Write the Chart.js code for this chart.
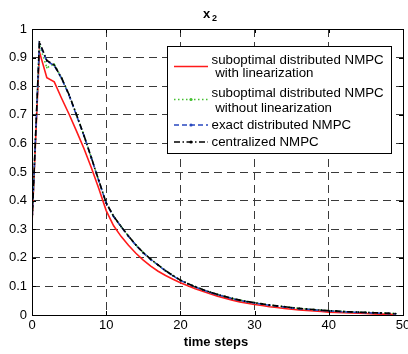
<!DOCTYPE html>
<html>
<head>
<meta charset="utf-8">
<script src="https://cdn.jsdelivr.net/npm/chart.js@4.4.0/dist/chart.umd.min.js"></script>
<style>
html, body { margin: 0; padding: 0; background: #fff; }
#wrap { width: 408px; height: 354px; }
</style>
</head>
<body>
<div id="wrap"><canvas id="c" width="408" height="354"></canvas></div>
<script>
// time steps 0..49
var steps = [0, 1, 2, 3, 4, 5, 6, 7, 8, 9, 10, 11, 12, 13, 14, 15, 16, 17, 18, 19,
    20, 21, 22, 23, 24, 25, 26, 27, 28, 29, 30, 31, 32, 33, 34, 35, 36, 37, 38, 39,
    40, 41, 42, 43, 44, 45, 46, 47, 48, 49];

// suboptimal distributed NMPC with linearization (red)
var subLin = [0.32, 0.92, 0.83, 0.815, 0.757, 0.702, 0.643, 0.582, 0.515, 0.442, 0.365,
    0.312, 0.275, 0.244, 0.216, 0.192, 0.171, 0.153, 0.138, 0.125, 0.113,
    0.102, 0.092, 0.083, 0.074, 0.066, 0.059, 0.052, 0.046, 0.041, 0.037,
    0.033, 0.029, 0.026, 0.023, 0.020, 0.018, 0.016, 0.014, 0.012, 0.010,
    0.009, 0.008, 0.007, 0.006, 0.005, 0.004, 0.003, 0.003, 0.002];

// suboptimal distributed NMPC without linearization (green)
var subNoLin = [0.32, 0.945, 0.865, 0.877, 0.828, 0.77, 0.70, 0.628, 0.55, 0.47, 0.392,
    0.345, 0.31, 0.276, 0.245, 0.218, 0.195, 0.175, 0.155, 0.138, 0.122,
    0.110, 0.099, 0.089, 0.080, 0.072, 0.065, 0.058, 0.052, 0.047, 0.043,
    0.039, 0.035, 0.032, 0.029, 0.026, 0.023, 0.021, 0.019, 0.017, 0.015,
    0.014, 0.012, 0.011, 0.010, 0.009, 0.008, 0.007, 0.006, 0.005];

// exact distributed NMPC (blue)
var exactDist = [0.32, 0.948, 0.888, 0.872, 0.826, 0.768, 0.698, 0.627, 0.549, 0.469, 0.391,
    0.344, 0.309, 0.275, 0.244, 0.217, 0.194, 0.174, 0.154, 0.137, 0.121,
    0.109, 0.098, 0.088, 0.079, 0.071, 0.064, 0.057, 0.051, 0.046, 0.042,
    0.038, 0.034, 0.031, 0.028, 0.025, 0.022, 0.020, 0.018, 0.016, 0.014,
    0.013, 0.011, 0.010, 0.009, 0.008, 0.007, 0.006, 0.005, 0.004];

// centralized NMPC (black)
var central = [0.32, 0.955, 0.89, 0.874, 0.828, 0.77, 0.70, 0.628, 0.55, 0.47, 0.392,
    0.345, 0.31, 0.276, 0.245, 0.218, 0.195, 0.175, 0.155, 0.138, 0.122,
    0.110, 0.099, 0.089, 0.080, 0.072, 0.065, 0.058, 0.052, 0.047, 0.043,
    0.039, 0.035, 0.032, 0.029, 0.026, 0.023, 0.021, 0.019, 0.017, 0.015,
    0.014, 0.012, 0.011, 0.010, 0.009, 0.008, 0.007, 0.006, 0.005];

var xTicks = [0, 10, 20, 30, 40, 50];
var yTicks = [0, 0.1, 0.2, 0.3, 0.4, 0.5, 0.6, 0.7, 0.8, 0.9, 1];

var legendLines = [
    ['suboptimal distributed NMPC', ' with linearization'],
    ['suboptimal distributed NMPC', ' without linearization'],
    ['exact distributed NMPC'],
    ['centralized NMPC']
];

function pts(ys) {
    var out = [];
    for (let i = 0; i < steps.length; i++) {
        out.push({ x: steps[i], y: ys[i] });
    }
    return out;
}

var FONT = '"Liberation Sans", Arial, sans-serif';

var styles = [
    { color: '#ff1a1a', dash: [], width: 1.6, dot: false },
    { color: '#44c030', dash: [1.5, 2.5], width: 1.6, dot: true },
    { color: '#2848c0', dash: [5, 3], width: 1.6, dot: true },
    { color: '#000000', dash: [6, 2.5, 1.5, 2.5], width: 1.6, dot: true }
];

var series = [subLin, subNoLin, exactDist, central];

var datasets = [];
for (let i = 0; i < series.length; i++) {
    datasets.push({
        label: legendLines[i].join(''),
        data: pts(series[i]),
        borderColor: styles[i].color,
        backgroundColor: styles[i].color,
        borderWidth: styles[i].width,
        borderDash: styles[i].dash,
        pointRadius: styles[i].dot ? 0.9 : 0,
        pointBorderWidth: 0,
        tension: 0,
        fill: false,
        order: series.length - i
    });
}

var decor = {
    id: 'decor',
    afterDraw: function (chart) {
        var ctx = chart.ctx;
        var a = chart.chartArea;
        var xs = chart.scales.x, ys = chart.scales.y;
        ctx.save();
        ctx.setLineDash([]);
        ctx.strokeStyle = '#000';
        ctx.lineWidth = 1;
        ctx.strokeRect(Math.round(a.left) + 0.5, Math.round(a.top) + 0.5,
            Math.round(a.right - a.left), Math.round(a.bottom - a.top));

        // inward ticks
        ctx.beginPath();
        xTicks.forEach(function (v) {
            var px = Math.round(xs.getPixelForValue(v)) + 0.5;
            ctx.moveTo(px, a.bottom); ctx.lineTo(px, a.bottom - 4);
            ctx.moveTo(px, a.top); ctx.lineTo(px, a.top + 4);
        });
        yTicks.forEach(function (v) {
            var py = Math.round(ys.getPixelForValue(v)) + 0.5;
            ctx.moveTo(a.left, py); ctx.lineTo(a.left + 4, py);
            ctx.moveTo(a.right, py); ctx.lineTo(a.right - 4, py);
        });
        ctx.stroke();

        // title x_2
        ctx.fillStyle = '#000';
        ctx.textBaseline = 'alphabetic';
        ctx.textAlign = 'left';
        ctx.font = 'bold 13px ' + FONT;
        ctx.fillText('x', 203, 18);
        ctx.font = 'bold 9px ' + FONT;
        ctx.fillText('2', 212, 21);

        // x label
        ctx.font = 'bold 13px ' + FONT;
        ctx.textAlign = 'center';
        ctx.fillText('time steps', 216, 346);

        // legend box
        var bx = 167.5, by = 46.5, bw = 224, bh = 107;
        ctx.fillStyle = '#fff';
        ctx.fillRect(bx, by, bw, bh);
        ctx.strokeStyle = '#000';
        ctx.lineWidth = 1;
        ctx.strokeRect(bx, by, bw, bh);

        var textY = [[60, 73.5], [93, 108], [125], [142]];
        var sampleY = [66.5, 99.5, 125, 142];
        ctx.font = '13.3px ' + FONT;
        ctx.textAlign = 'left';
        ctx.textBaseline = 'middle';
        for (let i = 0; i < legendLines.length; i++) {
            var st = styles[i];
            ctx.save();
            ctx.strokeStyle = st.color;
            ctx.lineWidth = st.width;
            ctx.setLineDash(st.dash);
            ctx.beginPath();
            ctx.moveTo(174, sampleY[i]);
            ctx.lineTo(208, sampleY[i]);
            ctx.stroke();
            if (st.dot) {
                ctx.setLineDash([]);
                ctx.fillStyle = st.color;
                ctx.beginPath();
                ctx.arc(191, sampleY[i], 1.6, 0, Math.PI * 2);
                ctx.fill();
            }
            ctx.restore();
            ctx.fillStyle = '#000';
            for (let j = 0; j < legendLines[i].length; j++) {
                ctx.fillText(legendLines[i][j], 211.5, textY[i][j]);
            }
        }
        ctx.restore();
    }
};

var chart = new Chart(document.getElementById('c'), {
    type: 'line',
    data: { datasets: datasets },
    plugins: [decor],
    options: {
        responsive: false,
        animation: false,
        devicePixelRatio: 1,
        layout: { padding: { left: 0, top: 29, right: 5, bottom: 0 } },
        plugins: {
            legend: { display: false },
            tooltip: { enabled: false },
            title: { display: false }
        },
        scales: {
            x: {
                type: 'linear',
                min: 0,
                max: 50,
                afterFit: function (s) {
                    s.height = 39;
                    s.paddingLeft = 0;
                    s.paddingRight = 0;
                },
                afterBuildTicks: function (s) {
                    s.ticks = xTicks.map(function (v) { return { value: v }; });
                },
                ticks: {
                    color: '#000',
                    font: { family: FONT, size: 13 },
                    padding: 3,
                    maxRotation: 0,
                    callback: function (v) { return String(v); }
                },
                grid: { color: '#3a3a3a', lineWidth: 1, drawTicks: false },
                border: { display: false, dash: [8, 5] }
            },
            y: {
                min: 0,
                max: 1,
                afterFit: function (s) {
                    s.width = 32;
                    s.paddingTop = 0;
                    s.paddingBottom = 0;
                },
                afterBuildTicks: function (s) {
                    s.ticks = yTicks.map(function (v) { return { value: v }; });
                },
                ticks: {
                    color: '#000',
                    font: { family: FONT, size: 13 },
                    padding: 5,
                    callback: function (v) { return String(Math.round(v * 10) / 10); }
                },
                grid: { color: '#3a3a3a', lineWidth: 1, drawTicks: false },
                border: { display: false, dash: [8, 5] }
            }
        }
    }
});
</script>
</body>
</html>
